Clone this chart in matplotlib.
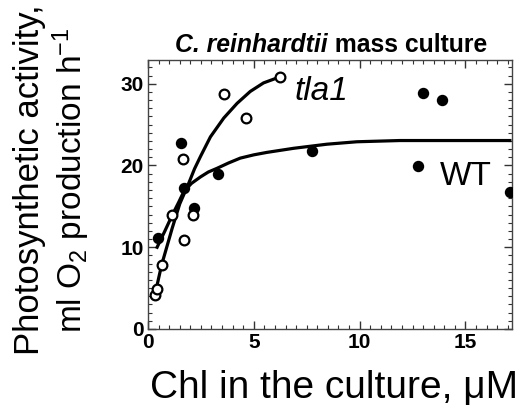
import matplotlib
matplotlib.use("Agg")
import matplotlib.pyplot as plt
from matplotlib.ticker import MultipleLocator

plt.rcParams['font.family'] = ['Liberation Sans', 'DejaVu Sans']
plt.rcParams['mathtext.fontset'] = 'custom'
plt.rcParams['mathtext.rm'] = 'Liberation Sans'
plt.rcParams['mathtext.it'] = 'Liberation Sans:italic'

# WT (filled circles)
wt_x = [0.48, 1.57, 1.72, 2.16, 3.31, 7.75, 12.77, 13.0, 13.88, 17.1]
wt_y = [11.1, 22.8, 17.3, 14.8, 18.9, 21.8, 19.9, 28.9, 28.0, 16.8]
# tla1 (open circles)
tla_x = [0.35, 0.43, 0.64, 1.14, 1.66, 1.72, 2.11, 3.61, 4.65, 6.25]
tla_y = [4.2, 4.9, 7.8, 13.9, 20.8, 10.9, 13.9, 28.8, 25.8, 30.8]

# fitted curves
wt_fit_x = [0.43, 0.8, 1.14, 1.45, 1.69, 2.05, 2.48, 2.85, 3.26, 3.8, 4.36, 5.0, 5.62, 6.88, 8.45, 9.87, 11.9, 17.1]
wt_fit_y = [10.0, 12.0, 13.9, 15.5, 16.8, 17.8, 18.6, 19.2, 19.65, 20.3, 20.9, 21.3, 21.6, 22.1, 22.6, 22.9, 23.05, 23.05]
tla_fit_x = [0.32, 0.64, 1.14, 1.5, 1.92, 2.2, 2.48, 2.95, 3.58, 4.21, 4.83, 5.46, 6.09, 6.25]
tla_fit_y = [4.1, 7.8, 12.3, 15.3, 17.8, 19.6, 21.1, 23.5, 25.8, 27.6, 29.05, 30.1, 30.7, 30.8]

fig = plt.figure(figsize=(5.27, 4.13), dpi=100)
ax = fig.add_axes([148/527, 1-329/413, (512-148)/527, (329-60)/413])

ax.plot(wt_fit_x, wt_fit_y, color='black', lw=2.3, zorder=2, solid_joinstyle='round')
ax.plot(tla_fit_x, tla_fit_y, color='black', lw=2.3, zorder=2, solid_joinstyle='round')
ax.plot(wt_x, wt_y, 'o', color='black', ms=7.2, zorder=3)
ax.plot(tla_x, tla_y, 'o', mfc='white', mec='black', mew=1.6, ms=7, zorder=3)

ax.set_xlim(0, 17.2)
ax.set_ylim(0, 32.9)
ax.xaxis.set_major_locator(MultipleLocator(5))
ax.xaxis.set_minor_locator(MultipleLocator(0.5))
ax.yaxis.set_major_locator(MultipleLocator(10))
ax.yaxis.set_minor_locator(MultipleLocator(1))
ax.tick_params(which='both', direction='in', top=True, right=True, color='#333333')
ax.tick_params(which='major', length=6, width=1)
ax.tick_params(which='minor', length=3, width=0.8)
ax.tick_params(axis='both', labelsize=15, pad=3)
for lab in ax.get_xticklabels() + ax.get_yticklabels():
    lab.set_fontweight('bold')
for s in ax.spines.values():
    s.set_color('#444444')
    s.set_linewidth(1)

# title: italic-bold species name followed by bold text
t1 = fig.text(175/527, 1-45/413, 'C. reinhardtii', fontsize=17.8, fontweight='bold',
              style='italic', ha='left', va='center')
fig.canvas.draw()
ax.annotate(' mass culture', xy=(1, 0.5), xycoords=t1, fontsize=17.8, fontweight='bold',
            ha='left', va='center')

ax.text(6.9, 29.0, 'tla1', fontsize=24, style='italic', va='center', ha='left')
ax.text(13.8, 18.7, 'WT', fontsize=24, va='center', ha='left')

fig.text(334/527, 1-388/413, 'Chl in the culture, μM', fontsize=28, ha='center', va='center')
fig.text(30/527, 1-180/413, 'Photosynthetic activity,', fontsize=25, rotation=90, ha='center', va='center')
fig.text(71/527, 1-180/413, r'ml O$_2$ production h$^{-1}$', fontsize=24, rotation=90, ha='center', va='center')

fig.savefig('out.png', dpi=100)
